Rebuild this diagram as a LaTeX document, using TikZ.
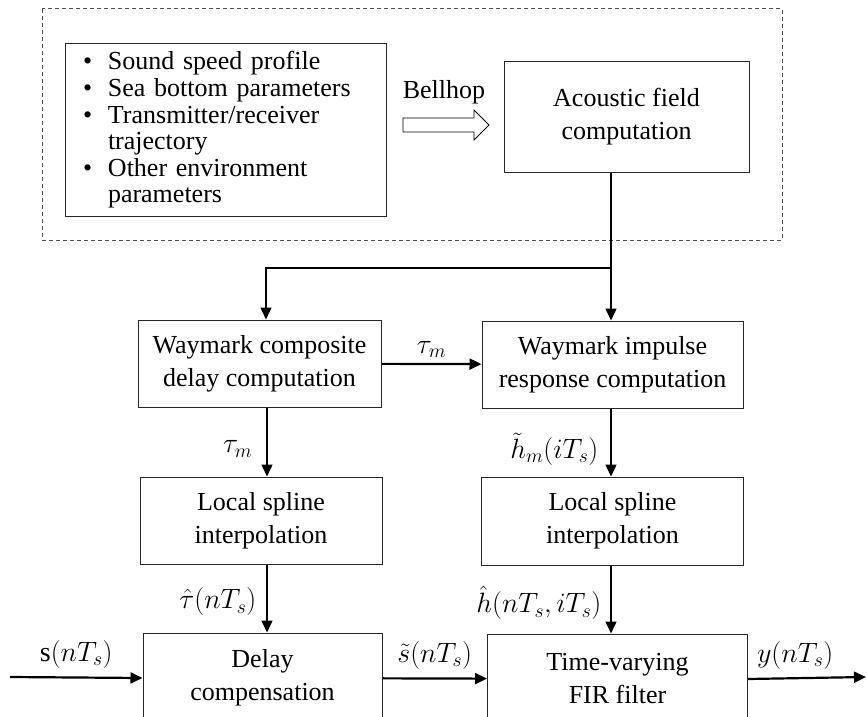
\documentclass[tikz,border=0pt]{standalone}
\usepackage{fix-cm}
\usepackage{fontspec}
\setmainfont{Liberation Serif}
\usetikzlibrary{arrows.meta, positioning, calc}
\tikzset{
  block/.style={rectangle, draw=black!85, line width=1pt, align=center,
                inner sep=2pt, font=\fontsize{26}{33}\selectfont},
  envlist/.style={rectangle, draw=black!85, line width=1pt, align=left,
                  inner xsep=18pt, text width=285pt, minimum height=172pt,
                  font=\fontsize{26}{26.6}\selectfont},
  conn/.style={-{Triangle[length=12pt, width=11pt]}, line width=1.5pt},
  sig/.style={-{Triangle[length=12pt, width=11pt]}, line width=2.2pt},
  lbl/.style={font=\fontsize{28}{30}\selectfont, inner sep=1pt},
}
\newcommand{\bitem}{\makebox[25pt][l]{\textbullet}}

\begin{document}
\begin{tikzpicture}[x=1pt, y=-1pt]
  \useasboundingbox (0,0) rectangle (867,717);
  \clip (0,0) rectangle (867,717);

  % environment model
  \draw[gray!60!black, line width=1pt, dash pattern=on 4pt off 3pt] (42,9) rectangle (782,240);
  \node [envlist] (envbox) at (225.5,130) {\bitem Sound speed profile\\
    \bitem Sea bottom parameters\\
    \bitem Transmitter/receiver\\
    \hspace*{25pt}trajectory\\
    \bitem Other environment\\
    \hspace*{25pt}parameters};
  \node [block, minimum width=245pt, minimum height=110pt] (acoustic) at (626.5,117) {Acoustic field\\computation};
  \node [font=\fontsize{26}{26}\selectfont] (bellhop) at (444,92) {Bellhop};
  \draw [line width=0.8pt] (403,118) -- (474,118) -- (474,110) -- (489,125)
        -- (474,140) -- (474,132) -- (403,132) -- cycle;

  % waymark stage
  \node [block, minimum width=243pt, minimum height=87pt] (wmdelay) at (259.5,363.5) {Waymark composite\\delay computation};
  \node [block, minimum width=261pt, minimum height=87pt] (wmimp) at (612.5,364.5) {Waymark impulse\\response computation};
  \node [block, minimum width=242pt, minimum height=87pt, below=69pt of wmdelay, xshift=1.5pt] (spline1) {Local spline\\interpolation};
  \node [block, minimum width=262pt, minimum height=88pt, below=68pt of wmimp] (spline2) {Local spline\\interpolation};
  \node [block, minimum width=239pt, minimum height=90pt, below=68pt of spline1, xshift=1.5pt] (delaycomp) {Delay\\compensation};
  \node [block, minimum width=260pt, minimum height=90pt, below=68pt of spline2, xshift=5pt] (firfilt) {Time-varying\\FIR filter};

  \coordinate (split) at (611,268);
  \coordinate (lx) at (266,268);
  \coordinate (lv) at (267,0);
  \coordinate (sin) at (10,677);
  \coordinate (sout) at (866,677);

  \draw [line width=1.5pt] (split |- acoustic.south) -- (split);
  \draw [conn] (split) -- (lx) -- (lx |- wmdelay.north);
  \draw [conn] (split) -- (split |- wmimp.north);
  \draw [sig] (wmdelay) -- node[lbl, above=4pt] {$\tau_m$} (wmimp);

  \draw [conn] (lv |- wmdelay.south) -- node[lbl, left=13pt, pos=.6] {$\tau_m$} (lv |- spline1.north);
  \draw [conn] (split |- wmimp.south) -- node[lbl, left=11pt, pos=.6] {$\tilde{h}_m(iT_s)$} (split |- spline2.north);
  \draw [conn] (lv |- spline1.south) -- node[lbl, left=9pt, pos=.55] {$\hat{\tau}(nT_s)$} (lv |- delaycomp.north);
  \draw [conn] (split |- spline2.south) -- node[lbl, left=8pt, pos=.55] {$\hat{h}(nT_s,iT_s)$} (split |- firfilt.north);

  % signal path
  \draw [sig] (sin) -- node[lbl, above=7pt] {$\mathrm{s}(nT_s)$} (delaycomp.west);
  \draw [sig] (delaycomp) -- node[lbl, above=7pt] {$\tilde{s}(nT_s)$} (firfilt);
  \draw [sig] (firfilt.east) -- node[lbl, above=7pt, pos=.4] {$y(nT_s)$} (sout);
\end{tikzpicture}
\end{document}
